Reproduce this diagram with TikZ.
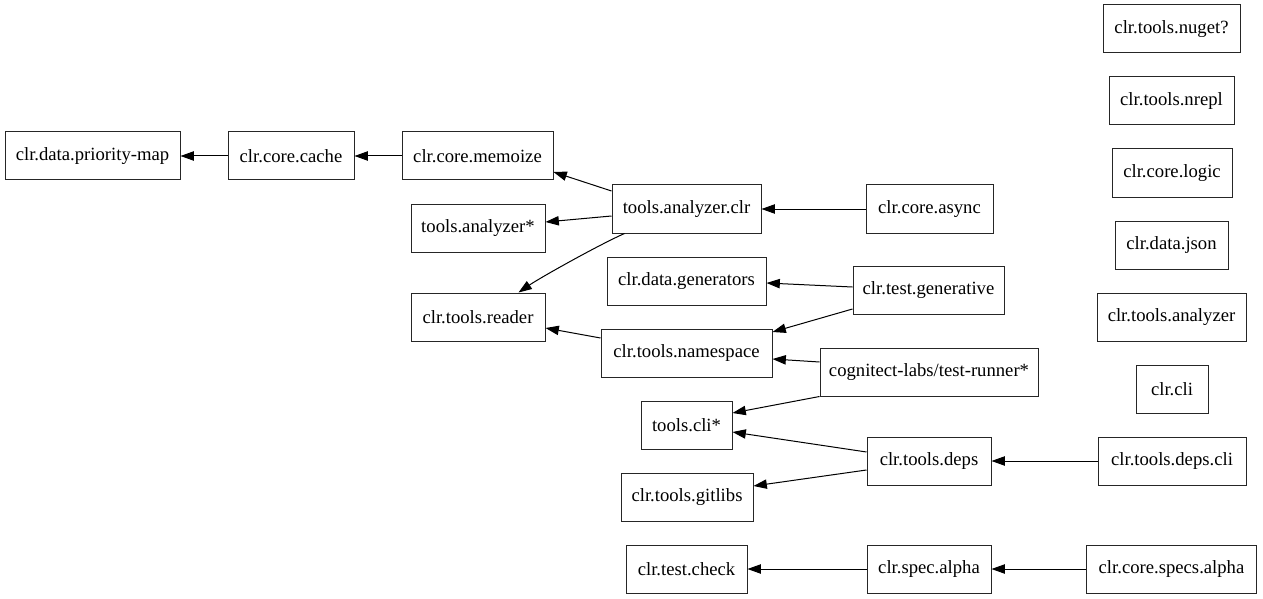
\documentclass[tikz,border=0pt]{standalone}
\usepackage{fontspec}
\setmainfont{Liberation Serif}
\usetikzlibrary{arrows.meta,calc}
\begin{document}
\begin{tikzpicture}[x=0.75pt,y=-0.75pt,
  box/.style={draw=black!85,line width=0.75pt,rectangle,minimum height=36pt,inner sep=0pt,font=\fontsize{14pt}{16pt}\selectfont},
  arr/.style={line width=0.75pt,-{Triangle[length=10pt,width=7pt]}}]
\useasboundingbox (0,0) rectangle (1263,599);
% nodes
\node[box,minimum width=131.25pt] (pm) at (92.5,156) {clr.data.priority-map};
\node[box,minimum width=94.5pt] (cache) at (291,156) {clr.core.cache};
\node[box,minimum width=113.25pt] (mem) at (477.5,156) {clr.core.memoize};
\node[box,minimum width=100.5pt] (ta) at (478,228) {tools.analyzer*};
\node[box,minimum width=111.75pt] (acl) at (686.5,209) {tools.analyzer.clr};
\node[box,minimum width=95.25pt] (async) at (929.5,209) {clr.core.async};
\node[box,minimum width=100.5pt] (rdr) at (478,317) {clr.tools.reader};
\node[box,minimum width=119.25pt] (gen) at (686.5,281) {clr.data.generators};
\node[box,minimum width=113.25pt] (tgen) at (928.5,290.5) {clr.test.generative};
\node[box,minimum width=128.25pt] (ns) at (686.5,353) {clr.tools.namespace};
\node[box,minimum width=163.5pt] (tr) at (929,372) {cognitect-labs/test-runner*};
\node[box,minimum width=68.25pt] (tcli) at (686.5,425) {tools.cli*};
\node[box,minimum width=93pt] (deps) at (929,461) {clr.tools.deps};
\node[box,minimum width=111pt] (dcli) at (1172,461) {clr.tools.deps.cli};
\node[box,minimum width=99pt] (git) at (687,497) {clr.tools.gitlibs};
\node[box,minimum width=90.75pt] (tchk) at (686.5,569) {clr.test.check};
\node[box,minimum width=93pt] (spec) at (929,569) {clr.spec.alpha};
\node[box,minimum width=127.5pt] (specs) at (1171.5,569) {clr.core.specs.alpha};
\node[box,minimum width=102.75pt] (nuget) at (1171.5,29) {clr.tools.nuget?};
\node[box,minimum width=93.75pt] (nrepl) at (1171.5,101) {clr.tools.nrepl};
\node[box,minimum width=90pt] (logic) at (1172,173) {clr.core.logic};
\node[box,minimum width=84.75pt] (json) at (1171.5,245) {clr.data.json};
\node[box,minimum width=111.75pt] (an) at (1171.5,317) {clr.tools.analyzer};
\node[box,minimum width=54pt] (ccli) at (1172,389) {clr.cli};
% edges
\draw[arr] (cache.west) -- (pm.east);
\draw[arr] (mem.west) -- (cache.east);
\draw[arr] ($(acl.west)+(0,-18)$) -- ($(mem.east)+(0,16)$);
\draw[arr] ($(acl.west)+(0,7)$) -- ($(ta.east)+(0,-6)$);
\draw[arr] ($(acl.south west)+(13,0)$) .. controls ($(acl.south west)+(-12,11)$) and ($(rdr.north east)+(-5,-15)$) .. ($(rdr.north east)+(-27,0)$);
\draw[arr] (async.west) -- (acl.east);
\draw[arr] ($(tgen.west)+(0,-3.5)$) -- ($(gen.east)+(0,2)$);
\draw[arr] ($(tgen.west)+(0,18.5)$) -- ($(ns.east)+(0,-21)$);
\draw[arr] ($(ns.west)+(0,-15)$) -- ($(rdr.east)+(0,11)$);
\draw[arr] ($(tr.west)+(0,-10)$) -- ($(ns.east)+(0,6)$);
\draw[arr] (tr.south west) -- ($(tcli.east)+(0,-12)$);
\draw[arr] ($(deps.west)+(0,-9)$) -- ($(tcli.east)+(0,7)$);
\draw[arr] ($(deps.west)+(0,9)$) -- ($(git.east)+(0,-11)$);
\draw[arr] (dcli.west) -- (deps.east);
\draw[arr] (spec.west) -- (tchk.east);
\draw[arr] (specs.west) -- (spec.east);
\end{tikzpicture}
\end{document}
